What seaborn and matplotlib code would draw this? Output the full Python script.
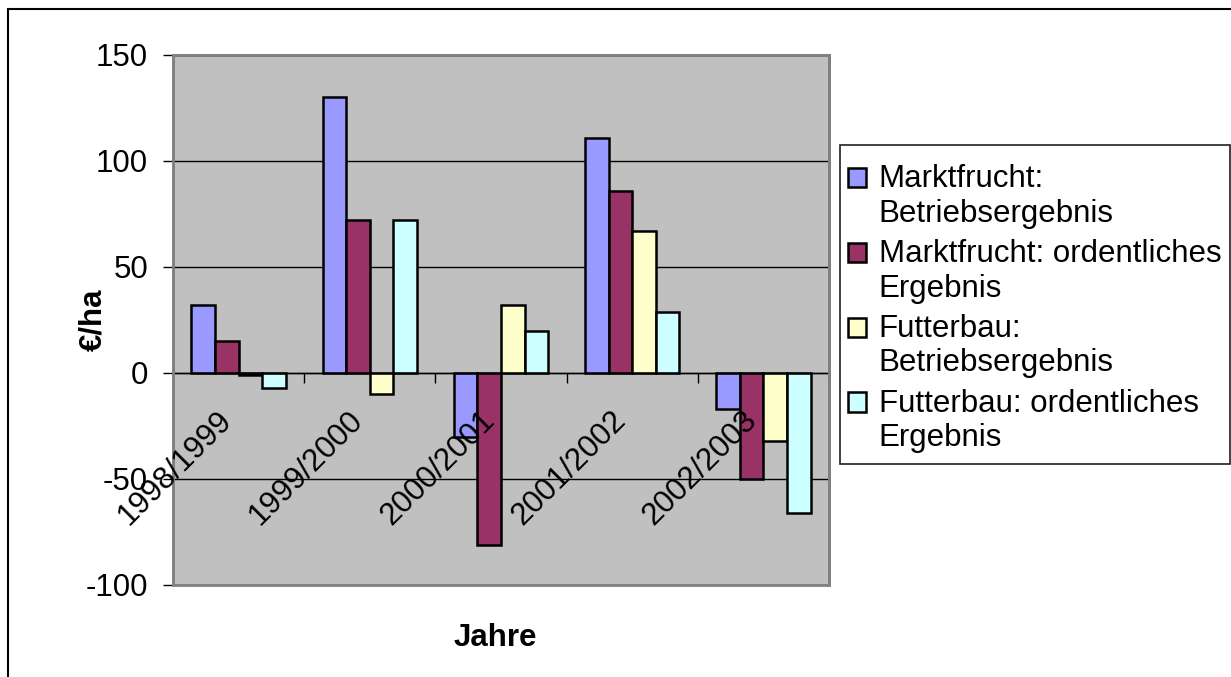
import matplotlib
matplotlib.use("Agg")
import matplotlib.pyplot as plt
import matplotlib.transforms as mtransforms
import matplotlib.patches as mpatches
from matplotlib.legend_handler import HandlerPatch
import seaborn as sns
import pandas as pd

sns.set_theme(style="white")
plt.rcParams['font.family'] = ['Liberation Sans', 'DejaVu Sans']
plt.rcParams['axes.unicode_minus'] = False
plt.rcParams['text.color'] = 'black'
plt.rcParams['axes.labelcolor'] = 'black'
plt.rcParams['xtick.color'] = 'black'
plt.rcParams['ytick.color'] = 'black'

# data
jahre = ["1998/1999", "1999/2000", "2000/2001", "2001/2002", "2002/2003"]
serien = ["Marktfrucht:\nBetriebsergebnis",
          "Marktfrucht: ordentliches\nErgebnis",
          "Futterbau:\nBetriebsergebnis",
          "Futterbau: ordentliches\nErgebnis"]
markt_betrieb = [32, 130, -30, 111, -17]
markt_ordentlich = [15, 72, -81, 86, -50]
futter_betrieb = [-1, -10, 32, 67, -32]
futter_ordentlich = [-7, 72, 20, 29, -66]
farben = ["#9999FF", "#993366", "#FFFFCC", "#CCFFFF"]

rows = []
for s, vals in zip(serien, [markt_betrieb, markt_ordentlich, futter_betrieb, futter_ordentlich]):
    for j, v in zip(jahre, vals):
        rows.append({"Jahre": j, "Serie": s, "Wert": v})
df = pd.DataFrame(rows)

FS = 22.5

fig = plt.figure(figsize=(12.31, 6.77), dpi=100)
ax = fig.add_axes([173 / 1231, 1 - 585 / 677, (829 - 173) / 1231, (585 - 55) / 677])

sns.barplot(data=df, x="Jahre", y="Wert", hue="Serie", order=jahre, hue_order=serien,
            palette=farben, width=0.72, gap=0, edgecolor="black", linewidth=1.8,
            saturation=1, errorbar=None, ax=ax, legend=True, zorder=3)

ax.set_facecolor("#C0C0C0")
ax.set_xlim(-0.5, len(jahre) - 0.5)
ax.set_ylim(-100, 150)
ax.set_yticks([-100, -50, 0, 50, 100, 150])
ax.yaxis.grid(True, color="black", linewidth=1)
ax.set_axisbelow(True)
ax.tick_params(axis="y", labelsize=FS, length=7, width=1, pad=11, direction="out", left=True)

# x axis crosses at zero, ticks between the categories
ax.spines["bottom"].set_position(("data", 0))
ax.spines["bottom"].set_color("black")
ax.spines["bottom"].set_linewidth(1)
ax.spines["bottom"].set_zorder(4)
for side in ["top", "right"]:
    ax.spines[side].set_color("#808080")
    ax.spines[side].set_linewidth(2)
ax.spines["left"].set_color("black")
ax.spines["left"].set_linewidth(1)
ax.add_patch(mpatches.Rectangle((0, 0), 1, 1, transform=ax.transAxes, fill=False,
                                edgecolor="#808080", linewidth=2, clip_on=False, zorder=5))
ax.set_xticks([i + 0.5 for i in range(len(jahre))])
ax.set_xticklabels([])
ax.tick_params(axis="x", length=7, width=1, direction="out", bottom=True)

off = mtransforms.offset_copy(ax.transData, fig=fig, x=-11, y=-43, units="dots")
for i, j in enumerate(jahre):
    ax.text(i, 0, j, transform=off, rotation=45, rotation_mode="anchor",
            ha="right", va="center", fontsize=FS, zorder=6)

ax.set_xlabel("")
ax.set_ylabel("€/ha", fontsize=FS, fontweight="bold")
ax.yaxis.set_label_coords(-0.099, 0.5)
fig.text(495 / 1231, 1 - 638 / 677, "Jahre", fontsize=FS, fontweight="bold",
         ha="center", va="center")


def top_patch(legend, orig_handle, xdescent, ydescent, width, height, fontsize):
    # legend box sits next to the first text line, as in the reference
    return mpatches.Rectangle((-xdescent, -ydescent + 0.62 * fontsize), width, height)


ax.get_legend().remove()
handles, labels = ax.get_legend_handles_labels()
leg = fig.legend(handles, labels, loc="upper left", bbox_to_anchor=(848 / 1231, 1 - 164 / 677),
                 fontsize=FS, frameon=False,
                 handlelength=0.58, handleheight=0.58, handletextpad=0.4,
                 borderpad=0, labelspacing=0.33, borderaxespad=0,
                 handler_map={mpatches.Patch: HandlerPatch(patch_func=top_patch)})
for t in leg.get_texts():
    t.set_linespacing(1.2)

# legend frame
fig.patches.append(mpatches.Rectangle((840 / 1231, 1 - 464 / 677), 390 / 1231, 319 / 677,
                                      transform=fig.transFigure, fill=False,
                                      edgecolor="#202020", linewidth=1.2))

# outer chart frame, only top and left edges fall inside the image
fig.patches.append(mpatches.Rectangle((8 / 1231, -0.1), 1.2, 1.1 - 9 / 677,
                                      transform=fig.transFigure, fill=False,
                                      edgecolor="black", linewidth=1.5))

fig.savefig("out.png", dpi=100)
